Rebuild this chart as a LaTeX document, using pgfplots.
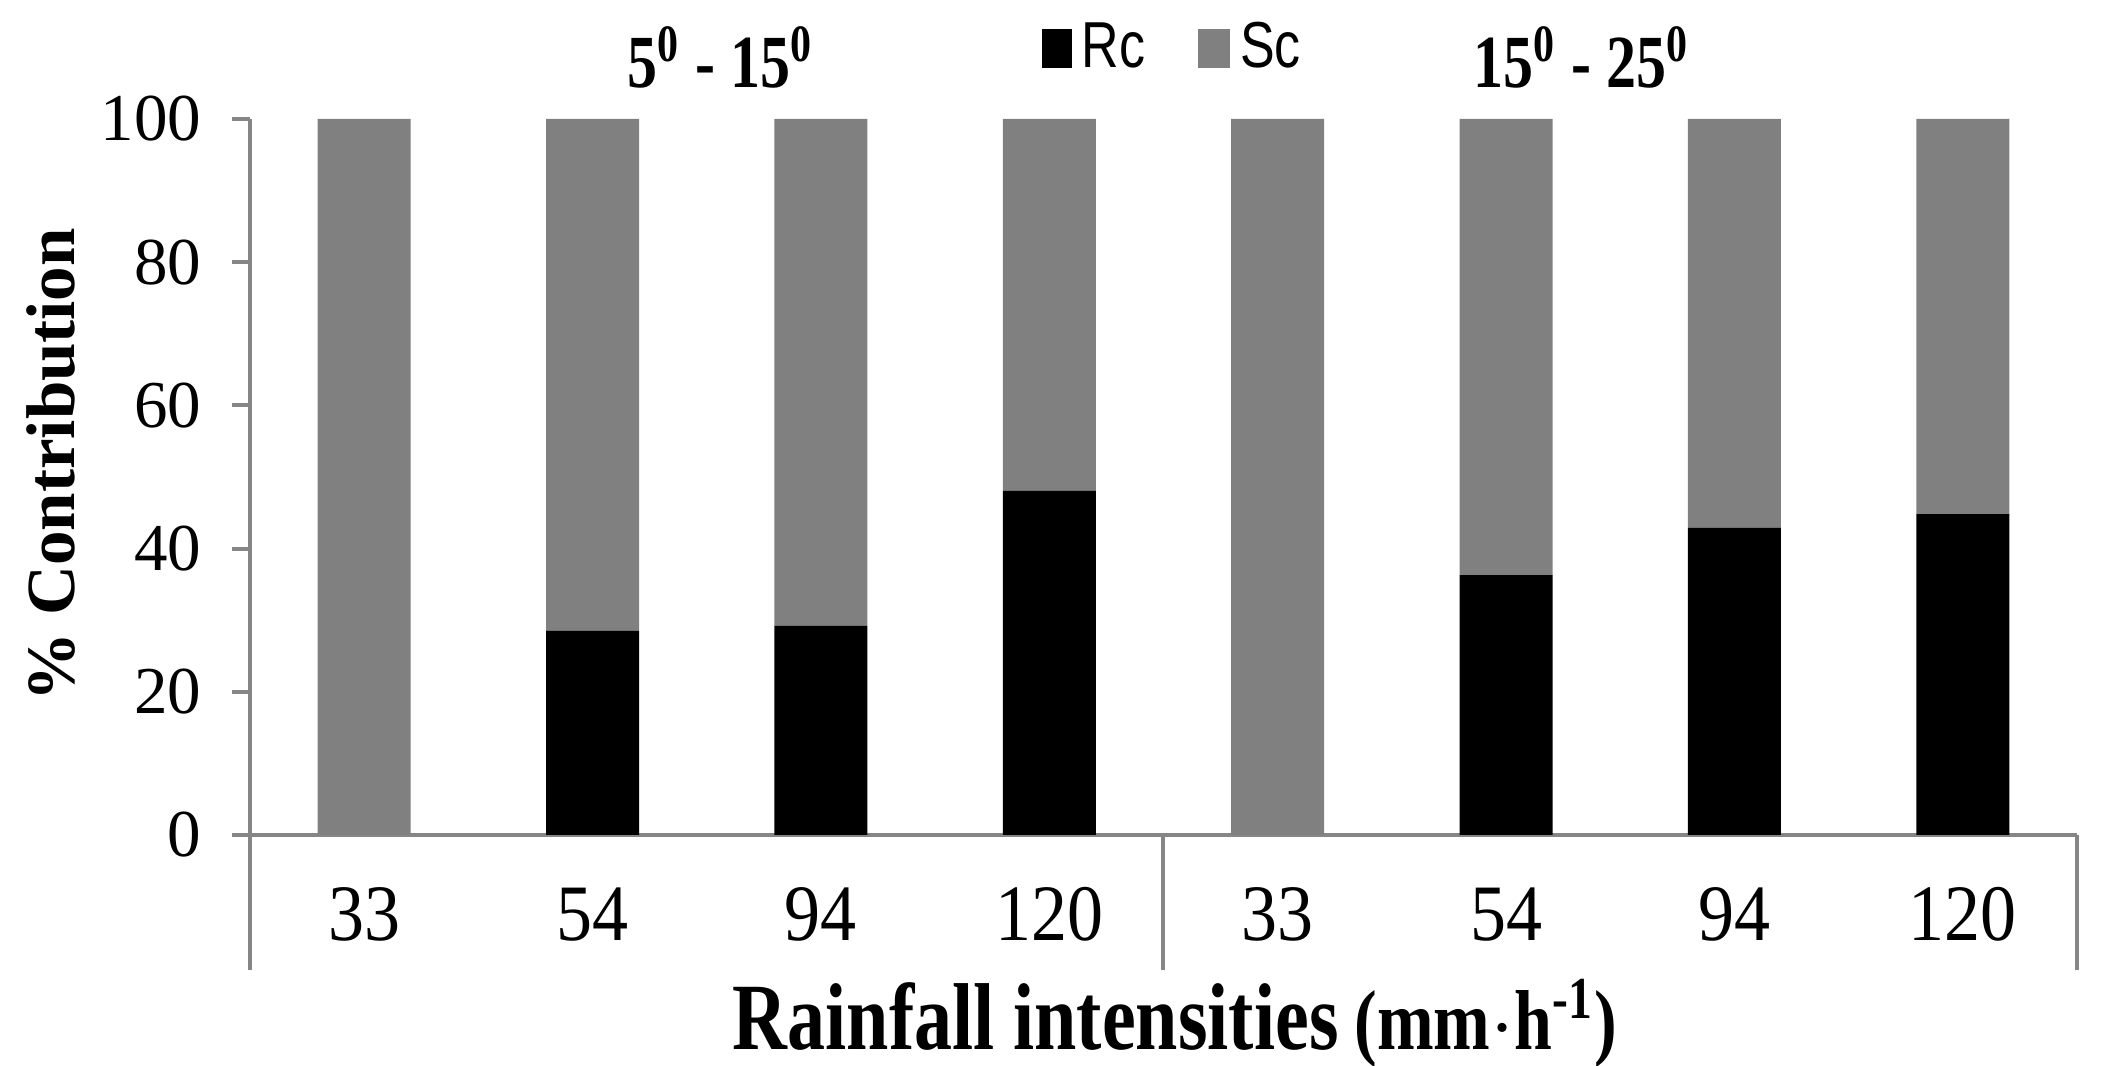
\documentclass[border=0pt]{standalone}
\usepackage{pgfplots}
\pgfplotsset{compat=1.18}
\usepackage{fontspec}
\setmainfont{Liberation Serif}
\newfontfamily\condserif[FakeStretch=0.8]{Liberation Serif}
\newfontfamily\tickserif[FakeStretch=0.9]{Liberation Serif}
\newfontfamily\condsans[FakeStretch=0.8]{Liberation Sans}
\definecolor{scgray}{HTML}{808080}
\definecolor{axgray}{HTML}{868686}
\begin{document}
\begin{tikzpicture}
\path[use as bounding box] (0,0) rectangle (421.2pt,213.2pt);
\begin{axis}[
  at={(50pt,46.2pt)}, anchor=south west,
  scale only axis, width=365.4pt, height=143.2pt,
  clip=false,
  ybar stacked, bar width=0.407,
  xmin=-0.5, xmax=7.5, ymin=0, ymax=100,
  xtick={0,...,7},
  xticklabels={33,54,94,120,33,54,94,120},
  ytick={0,20,...,100},
  axis lines=left,
  axis line style={-, draw=axgray, line width=0.8pt},
  xtick style={draw=none},
  ytick style={draw=axgray, line width=0.8pt},
  tick align=outside, major tick length=3.5pt,
  /pgf/number format/assume math mode=true,
  yticklabel style={font=\fontsize{13.4}{13.4}\selectfont, anchor=east, inner sep=0pt, xshift=-6pt},
  xticklabel style={font=\tickserif\fontsize{16}{16}\selectfont, anchor=center, yshift=-12.4pt},
  legend columns=2,
  legend style={draw=none, fill=none, at={(0.507,1.098)}, anchor=center,
    font=\condsans\fontsize{13}{13}\selectfont,
    /tikz/every even column/.append style={column sep=8.5pt}},
]
\addplot[fill=black, draw=none,
  legend image code/.code={\fill[black] (0pt,-3.9pt) rectangle (6pt,3.9pt);}]
  coordinates {(0,0) (1,28.5) (2,29.2) (3,48.1) (4,0) (5,36.3) (6,42.9) (7,44.8)};
\addplot[fill=scgray, draw=none,
  legend image code/.code={\fill[scgray] (0pt,-3.9pt) rectangle (6.5pt,3.9pt);}]
  coordinates {(0,100) (1,71.5) (2,70.8) (3,51.9) (4,100) (5,63.7) (6,57.1) (7,55.2)};
\legend{Rc,Sc}
\draw[axgray, line width=0.8pt] (axis cs:-0.5,0) -- (axis cs:-0.5,-18.8);
\draw[axgray, line width=0.8pt] (axis cs:3.5,0) -- (axis cs:3.5,-18.8);
\draw[axgray, line width=0.8pt] (axis cs:7.5,0) -- (axis cs:7.5,-18.8);
\node[font=\condserif\bfseries\fontsize{15}{15}\selectfont] at (axis cs:1.562,108.6) {5\textsuperscript{0} - 15\textsuperscript{0}};
\node[font=\condserif\bfseries\fontsize{15}{15}\selectfont] at (axis cs:5.332,108.6) {15\textsuperscript{0} - 25\textsuperscript{0}};
\node[rotate=90, font=\bfseries\fontsize{13.8}{14}\selectfont] at (axis cs:-1.37,51.7) {\% Contribution};
\node[font=\condserif\bfseries\fontsize{19}{19}\selectfont] at (axis cs:3.55,-26.3) {Rainfall intensities\,{\fontsize{17}{17}\selectfont(mm$\cdot$h\textsuperscript{-1})}};
\end{axis}
\end{tikzpicture}
\end{document}
